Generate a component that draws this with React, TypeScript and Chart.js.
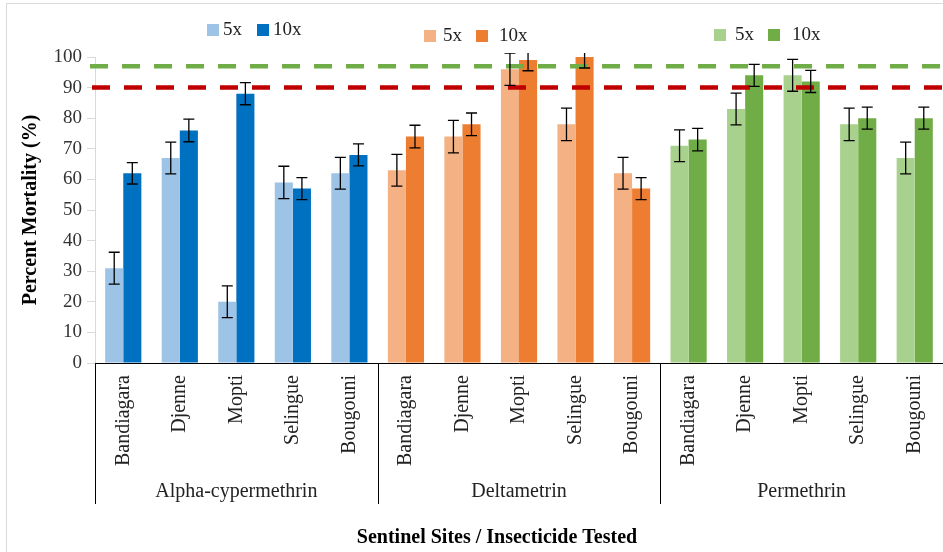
import React, { useEffect, useRef } from "react";
import { Chart, registerables } from "chart.js";

Chart.register(...registerables);

// ---------- Data ----------
const sites = ["Bandiagara", "Djenne", "Mopti", "Selingue", "Bougouni"];
const insecticides = ["Alpha-cypermethrin", "Deltametrin", "Permethrin"];
const doseLabels = ["5x", "10x"];

const alpha5 = [31, 67, 20, 59, 62];
const alpha10 = [62, 76, 88, 57, 68];
const delta5 = [63, 74, 96, 78, 62];
const delta10 = [74, 78, 99, 100, 57];
const perm5 = [71, 83, 94, 78, 67];
const perm10 = [73, 94, 92, 80, 80];

const alpha5Err = [5.2, 5.2, 5.2, 5.3, 5.2];
const alpha10Err = [3.5, 3.7, 3.6, 3.6, 3.6];
const delta5Err = [5.2, 5.3, 5.3, 5.3, 5.2];
const delta10Err = [3.7, 3.7, 3.5, 3.6, 3.6];
const perm5Err = [5.2, 5.2, 5.2, 5.3, 5.2];
const perm10Err = [3.7, 3.6, 3.6, 3.6, 3.6];

const whoThreshold = 97;
const resistanceThreshold = 90;

const yMin = 0;
const yMax = 100;
const yStep = 10;

const xTitle = "Sentinel Sites / Insecticide Tested";
const yTitle = "Percent Mortality (%)";

// ---------- Styles ----------
const lightColors = ["#9DC3E6", "#F4B183", "#A9D18E"];
const darkColors = ["#0070C0", "#ED7D31", "#70AD47"];
const SERIF = '"Liberation Serif", "DejaVu Serif", serif';

const legendBoxX = [207, 424, 714];
const legendCenterY = [30, 36, 35];
const legendText1Off = [16, 19, 21];
const legendBox2Off = [50, 52, 54];
const legendText2Off = [66, 75, 78];

const labels = insecticides.flatMap(() => sites);
const data5 = [...alpha5, ...delta5, ...perm5];
const data10 = [...alpha10, ...delta10, ...perm10];
const err5 = [...alpha5Err, ...delta5Err, ...perm5Err];
const err10 = [...alpha10Err, ...delta10Err, ...perm10Err];
const colors5 = insecticides.flatMap((_, g) => sites.map(() => lightColors[g]));
const colors10 = insecticides.flatMap((_, g) => sites.map(() => darkColors[g]));

const overlayPlugin = {
  id: "overlay",
  beforeDraw(chart: any) {
    const ctx = chart.ctx;
    ctx.save();
    ctx.strokeStyle = "#D9D9D9";
    ctx.lineWidth = 1;
    ctx.strokeRect(6.5, 3.5, chart.width + 20, chart.height + 20);
    ctx.restore();
  },
  afterDatasetsDraw(chart: any) {
    const { ctx, chartArea, scales } = chart;
    const y = scales.y;
    // threshold lines
    ctx.save();
    ctx.lineWidth = 4.5;
    ctx.setLineDash([18, 14]);
    ctx.strokeStyle = "#70AD47";
    let py = y.getPixelForValue(whoThreshold);
    ctx.beginPath();
    ctx.moveTo(90, py);
    ctx.lineTo(chart.width, py);
    ctx.stroke();
    ctx.strokeStyle = "#C00000";
    py = y.getPixelForValue(resistanceThreshold);
    ctx.beginPath();
    ctx.moveTo(92, py);
    ctx.lineTo(chart.width, py);
    ctx.stroke();
    ctx.restore();

    // error bars
    ctx.save();
    ctx.beginPath();
    ctx.rect(chartArea.left, chartArea.top - 4, chartArea.right - chartArea.left, chartArea.bottom - chartArea.top + 4);
    ctx.clip();
    ctx.strokeStyle = "#000";
    ctx.lineWidth = 1.3;
    chart.data.datasets.forEach((ds: any, i: number) => {
      const meta = chart.getDatasetMeta(i);
      meta.data.forEach((bar: any, j: number) => {
        const v = ds.data[j];
        const e = ds.errors[j];
        const top = y.getPixelForValue(v + e);
        const bot = y.getPixelForValue(v - e);
        const cx = bar.x;
        const cap = 5.5;
        ctx.beginPath();
        ctx.moveTo(cx, top);
        ctx.lineTo(cx, bot);
        ctx.moveTo(cx - cap, top);
        ctx.lineTo(cx + cap, top);
        ctx.moveTo(cx - cap, bot);
        ctx.lineTo(cx + cap, bot);
        ctx.stroke();
      });
    });
    ctx.restore();
  },
  afterDraw(chart: any) {
    const { ctx, chartArea, scales } = chart;
    const x = scales.x;
    const half = (x.getPixelForValue(1) - x.getPixelForValue(0)) / 2;
    ctx.save();
    // group separators
    ctx.strokeStyle = "#000";
    ctx.lineWidth = 1;
    for (let g = 0; g <= insecticides.length; g++) {
      const px = Math.round(x.getPixelForValue(g * sites.length) - half) + 0.5;
      ctx.beginPath();
      ctx.moveTo(px, chartArea.bottom);
      ctx.lineTo(px, 504);
      ctx.stroke();
    }
    // group labels
    ctx.fillStyle = "#222";
    ctx.font = `20px ${SERIF}`;
    ctx.textAlign = "center";
    ctx.textBaseline = "middle";
    insecticides.forEach((name, g) => {
      const a = x.getPixelForValue(g * sites.length);
      const b = x.getPixelForValue(g * sites.length + sites.length - 1);
      ctx.fillText(name, (a + b) / 2, 492);
    });
    // axis titles
    ctx.font = `bold 20px ${SERIF}`;
    ctx.fillStyle = "#000";
    ctx.fillText(xTitle, 497, 538);
    ctx.save();
    ctx.translate(31, 210);
    ctx.rotate(-Math.PI / 2);
    ctx.fillText(yTitle, 0, 0);
    ctx.restore();
    // legends
    ctx.font = `19px ${SERIF}`;
    ctx.textAlign = "left";
    insecticides.forEach((_, g) => {
      const bx = legendBoxX[g];
      const cy = legendCenterY[g];
      ctx.fillStyle = lightColors[g];
      ctx.fillRect(bx, cy - 6, 12, 12);
      ctx.fillStyle = "#222";
      ctx.fillText(doseLabels[0], bx + legendText1Off[g], cy);
      ctx.fillStyle = darkColors[g];
      ctx.fillRect(bx + legendBox2Off[g], cy - 6, 12, 12);
      ctx.fillStyle = "#222";
      ctx.fillText(doseLabels[1], bx + legendText2Off[g], cy);
    });
    ctx.restore();
  },
};

export default function App() {
  const ref = useRef<HTMLCanvasElement | null>(null);
  useEffect(() => {
    document.body.style.margin = "0";
    const canvas = ref.current;
    if (!canvas) return;
    const chart = new Chart(canvas, {
      type: "bar",
      data: {
        labels,
        datasets: [
          {
            label: doseLabels[0],
            data: data5,
            backgroundColor: colors5,
            categoryPercentage: 0.64,
            barPercentage: 1,
            errors: err5,
          } as any,
          {
            label: doseLabels[1],
            data: data10,
            backgroundColor: colors10,
            categoryPercentage: 0.64,
            barPercentage: 1,
            errors: err10,
          } as any,
        ],
      },
      options: {
        responsive: false,
        animation: false,
        layout: { padding: { top: 57, left: 0, right: 0, bottom: 0 } },
        plugins: { legend: { display: false }, tooltip: { enabled: false } },
        scales: {
          x: {
            grid: { display: false, drawTicks: false },
            border: { display: true, color: "#000", width: 1 },
            ticks: {
              autoSkip: false,
              maxRotation: 90,
              minRotation: 90,
              padding: 12,
              color: "#222",
              font: { family: SERIF, size: 20 },
            },
            afterFit(scale: any) {
              scale.height = 189;
              scale.paddingLeft = 0;
              scale.paddingRight = 0;
            },
          },
          y: {
            min: yMin,
            max: yMax,
            ticks: {
              stepSize: yStep,
              padding: 5,
              color: "#333",
              font: { family: SERIF, size: 19 },
            },
            grid: {
              display: true,
              drawOnChartArea: false,
              drawTicks: true,
              tickLength: 8,
              color: "#D9D9D9",
            },
            border: { display: true, color: "#D9D9D9" },
            afterFit(scale: any) {
              scale.width = 95;
              scale.paddingTop = 0;
              scale.paddingBottom = 0;
            },
          },
        },
      },
      plugins: [overlayPlugin],
    });
    return () => chart.destroy();
  }, []);
  return (
    <div style={{ position: "absolute", left: 0, top: 0, width: 943, height: 552, background: "#fff" }}>
      <canvas ref={ref} width={943} height={552} />
    </div>
  );
}
